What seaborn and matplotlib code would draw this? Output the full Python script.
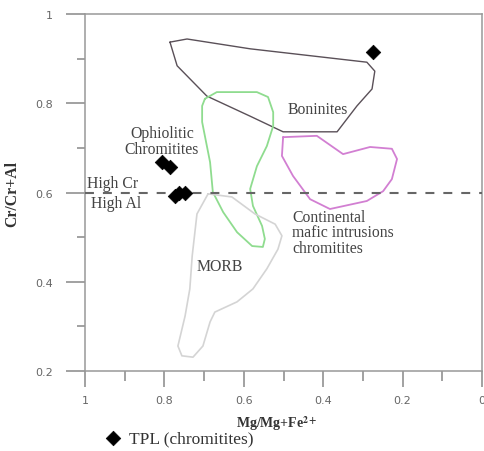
import numpy as np
import pandas as pd
import seaborn as sns
import matplotlib.pyplot as plt
from matplotlib.ticker import MultipleLocator

# TPL chromitite analyses
mg_num = [0.275, 0.806, 0.786, 0.774, 0.762, 0.748]
cr_num = [0.915, 0.668, 0.657, 0.593, 0.600, 0.600]

# field outlines (Mg#, Cr#)
boninite_x = [0.786, 0.743, 0.584, 0.290, 0.270, 0.277, 0.315, 0.365, 0.501, 0.584, 0.693, 0.768]
boninite_y = [0.937, 0.944, 0.922, 0.892, 0.872, 0.832, 0.794, 0.736, 0.736, 0.771, 0.816, 0.884]

green_x = [0.698, 0.668, 0.567, 0.539, 0.526, 0.526, 0.542, 0.567, 0.584, 0.577, 0.554, 0.547,
           0.552, 0.579, 0.617, 0.652, 0.678, 0.685, 0.705, 0.705]
green_y = [0.810, 0.825, 0.825, 0.814, 0.780, 0.749, 0.704, 0.659, 0.608, 0.570, 0.525, 0.496,
           0.478, 0.480, 0.511, 0.556, 0.601, 0.668, 0.758, 0.794]

cont_x = [0.501, 0.416, 0.350, 0.282, 0.227, 0.214, 0.227, 0.249, 0.290, 0.383, 0.433, 0.476, 0.504]
cont_y = [0.724, 0.727, 0.686, 0.702, 0.698, 0.675, 0.630, 0.603, 0.581, 0.563, 0.585, 0.637, 0.682]

morb_x = [0.690, 0.718, 0.730, 0.736, 0.748, 0.766, 0.756, 0.728, 0.703, 0.685, 0.673, 0.617,
          0.577, 0.542, 0.514, 0.504, 0.521, 0.572, 0.630]
morb_y = [0.597, 0.552, 0.458, 0.384, 0.323, 0.256, 0.234, 0.231, 0.256, 0.310, 0.332, 0.355,
          0.384, 0.429, 0.473, 0.503, 0.529, 0.552, 0.590]

fields = [
    (boninite_x, boninite_y, '#5a5058', 1.0),
    (green_x, green_y, '#8fdc8f', 1.3),
    (cont_x, cont_y, '#d27fd2', 1.3),
    (morb_x, morb_y, '#d4d4d4', 1.2),
]

df = pd.DataFrame({'mg': mg_num, 'cr': cr_num})

sns.set_style('white')
plt.rcParams['mathtext.fontset'] = 'stix'
serif = ['Liberation Serif', 'DejaVu Serif']

fig = plt.figure(figsize=(4.85, 4.52), dpi=100)
ax = fig.add_axes([0.1753, 0.177, 0.8185, 0.7898])

for fx, fy, col, lw in fields:
    ax.plot(fx + fx[:1], fy + fy[:1], color=col, lw=lw, zorder=2)

ax.axhline(0.6, color='#666666', lw=1.5, ls=(0, (4.3, 4.3)), zorder=3)

sns.scatterplot(data=df, x='mg', y='cr', marker='D', s=55, color='black',
                edgecolor='black', linewidth=0.5, ax=ax, zorder=4, label='TPL (chromitites)')

txt = dict(family=serif, color='#444444', fontsize=11.3)
ax.text(0.413, 0.787, 'Boninites', ha='center', va='center', **txt)
ax.text(0.806, 0.715, 'Ophiolitic\nChromitites', ha='center', va='center', linespacing=1.0, **txt)
ax.text(0.995, 0.621, 'High Cr', ha='left', va='center', **txt)
ax.text(0.985, 0.576, 'High Al', ha='left', va='center', **txt)
ax.text(0.478, 0.511, 'Continental\nmafic intrusions\nchromitites', ha='left', va='center',
        linespacing=0.95, **txt)
ax.text(0.660, 0.435, 'MORB', ha='center', va='center', **txt)

ax.set_xlim(1, 0)
ax.set_ylim(0.2, 1)
ax.xaxis.set_major_locator(MultipleLocator(0.2))
ax.xaxis.set_minor_locator(MultipleLocator(0.1))
ax.yaxis.set_major_locator(MultipleLocator(0.2))
ax.yaxis.set_minor_locator(MultipleLocator(0.1))
ax.set_xticks([1, 0.8, 0.6, 0.4, 0.2, 0], ['1', '0.8', '0.6', '0.4', '0.2', '0'])
ax.set_yticks([0.2, 0.4, 0.6, 0.8, 1], ['0.2', '0.4', '0.6', '0.8', '1'])

ax.tick_params(axis='x', which='major', direction='out', length=11.5, width=1.1,
               color='#888888', labelcolor='#666666', labelsize=8, pad=6, bottom=True)
ax.tick_params(axis='x', which='minor', direction='out', length=7, width=1.1,
               color='#888888', bottom=True)
ax.tick_params(axis='y', which='major', direction='out', length=14, width=1.1,
               color='#888888', labelcolor='#666666', labelsize=8, pad=9, left=True)
ax.tick_params(axis='y', which='minor', direction='out', length=6, width=1.1,
               color='#888888', left=True)
for sp in ax.spines.values():
    sp.set_color('#999999')
    sp.set_linewidth(1.1)

ax.set_xlabel(r'Mg/Mg+Fe$^{\mathbf{2+}}$', family=serif, fontweight='bold', fontsize=10, color='#333333')
ax.set_ylabel('Cr/Cr+Al', family=serif, fontweight='bold', fontsize=11.3, color='#333333')
ax.xaxis.set_label_coords(0.483, -0.118)
ax.yaxis.set_label_coords(-0.162, 0.5)

ax.legend(loc='center left', bbox_to_anchor=(0.197, 0.027), bbox_transform=fig.transFigure,
          frameon=False, borderpad=0, handletextpad=0.45, handlelength=1.0,
          prop={'family': serif, 'size': 12.5})
for t in ax.get_legend().get_texts():
    t.set_color('#333333')

fig.savefig('out.png', dpi=100)
